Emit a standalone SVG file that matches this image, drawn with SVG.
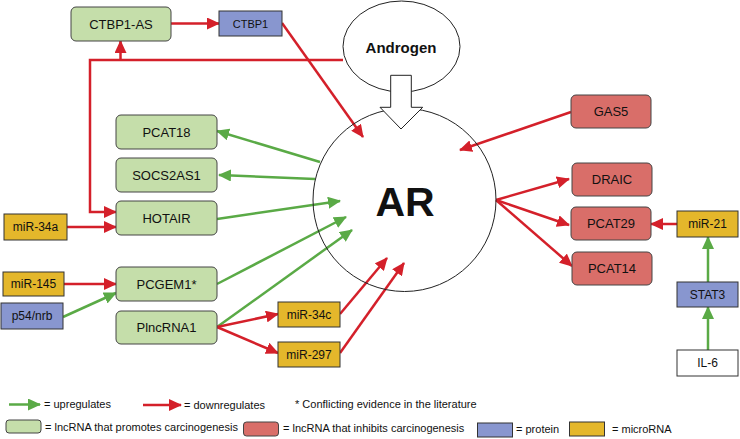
<svg xmlns="http://www.w3.org/2000/svg" width="740" height="439" viewBox="0 0 740 439">
<defs>
<marker id="ar" markerWidth="13" markerHeight="12" refX="12" refY="6" orient="auto" markerUnits="userSpaceOnUse"><path d="M0,0 L13,6 L0,12 Z" fill="#d4202a"/></marker>
<marker id="ag" markerWidth="13" markerHeight="12" refX="12" refY="6" orient="auto" markerUnits="userSpaceOnUse"><path d="M0,0 L13,6 L0,12 Z" fill="#5aaa46"/></marker>
<style>
text{font-family:"Liberation Sans",Arial,sans-serif;font-size:13px;fill:#111;text-anchor:middle;dominant-baseline:central}
.lg{font-size:11px;text-anchor:start}
.pro{fill:#c5deaa;stroke:#444;stroke-width:1}
.inh{fill:#d96e69;stroke:#444;stroke-width:1}
.prot{fill:#8896cf;stroke:#333;stroke-width:1}
.mir{fill:#e4b72b;stroke:#333;stroke-width:1}
.r{stroke:#d4202a;stroke-width:2.5;fill:none}
.g{stroke:#5aaa46;stroke-width:2.5;fill:none}
</style>
</defs>
<rect width="740" height="439" fill="#fff"/>
<g id="connectors">
<line class="r" x1="171" y1="23.5" x2="219" y2="23.5" marker-end="url(#ar)"/>
<polyline class="r" points="343,60 90,60 90,212 116,212" marker-end="url(#ar)"/>
<line class="r" x1="120.5" y1="60" x2="120.5" y2="41" marker-end="url(#ar)"/>
<line class="r" x1="282" y1="23" x2="363" y2="137" marker-end="url(#ar)"/>
<line class="r" x1="571" y1="112" x2="460" y2="150" marker-end="url(#ar)"/>
<line class="g" x1="320" y1="162" x2="217" y2="131" marker-end="url(#ag)"/>
<line class="g" x1="315" y1="179" x2="219" y2="175" marker-end="url(#ag)"/>
<line class="g" x1="217" y1="219" x2="340" y2="201" marker-end="url(#ag)"/>
<line class="g" x1="217" y1="284" x2="346" y2="217" marker-end="url(#ag)"/>
<line class="g" x1="217" y1="327" x2="352" y2="230" marker-end="url(#ag)"/>
<line class="r" x1="67" y1="227" x2="116" y2="227" marker-end="url(#ar)"/>
<line class="r" x1="64" y1="284" x2="116" y2="284" marker-end="url(#ar)"/>
<line class="g" x1="63" y1="317" x2="116" y2="293" marker-end="url(#ag)"/>
<line class="r" x1="217" y1="327" x2="278" y2="314" marker-end="url(#ar)"/>
<line class="r" x1="217" y1="327" x2="278" y2="353" marker-end="url(#ar)"/>
<line class="r" x1="340" y1="314" x2="387" y2="258" marker-end="url(#ar)"/>
<line class="r" x1="340" y1="353" x2="404" y2="263" marker-end="url(#ar)"/>
<line class="r" x1="496" y1="200" x2="569" y2="179" marker-end="url(#ar)"/>
<line class="r" x1="496" y1="200" x2="569" y2="225" marker-end="url(#ar)"/>
<line class="r" x1="496" y1="200" x2="572" y2="266" marker-end="url(#ar)"/>
<line class="r" x1="677" y1="224" x2="651" y2="224" marker-end="url(#ar)"/>
<line class="g" x1="708" y1="282" x2="708" y2="237" marker-end="url(#ag)"/>
<line class="g" x1="708" y1="350" x2="708" y2="307" marker-end="url(#ag)"/>
</g>
<g id="AR"><circle cx="404.5" cy="200" r="91.5" fill="none" stroke="#222" stroke-width="1"/><text x="405" y="202" style="font-size:41px;font-weight:bold">AR</text></g>
<g id="Androgen"><ellipse cx="401.5" cy="46.5" rx="58.5" ry="45.5" fill="#fff" stroke="#222" stroke-width="1"/><text x="401" y="47" style="font-size:15px;font-weight:bold">Androgen</text>
<path d="M390.7,75.3 H411.3 V107.3 H422.7 L401,129 L380,107.3 H390.7 Z" fill="#fff" stroke="#222" stroke-width="1"/></g>
<g id="CTBP1-AS"><rect class="pro" x="71" y="7" width="100" height="34" rx="5"/><text x="121" y="24">CTBP1-AS</text></g>
<g id="CTBP1"><rect class="prot" x="219" y="11" width="63" height="25"/><text x="250.5" y="23.5" style="font-size:11px">CTBP1</text></g>
<g id="PCAT18"><rect class="pro" x="116" y="115" width="101" height="34" rx="5"/><text x="166.5" y="132">PCAT18</text></g>
<g id="SOCS2AS1"><rect class="pro" x="116" y="158" width="101" height="34" rx="5"/><text x="166.5" y="175">SOCS2AS1</text></g>
<g id="HOTAIR"><rect class="pro" x="116" y="201" width="101" height="34" rx="5"/><text x="166.5" y="218">HOTAIR</text></g>
<g id="PCGEM1"><rect class="pro" x="116" y="267" width="101" height="34" rx="5"/><text x="166.5" y="284">PCGEM1*</text></g>
<g id="PlncRNA1"><rect class="pro" x="116" y="311" width="101" height="33" rx="5"/><text x="166.5" y="327.5">PlncRNA1</text></g>
<g id="miR-34a"><rect class="mir" x="4" y="214" width="63" height="26"/><text x="35.5" y="227" style="font-size:12px">miR-34a</text></g>
<g id="miR-145"><rect class="mir" x="3" y="272" width="61" height="24"/><text x="33.5" y="284" style="font-size:12px">miR-145</text></g>
<g id="p54nrb"><rect class="prot" x="1" y="303" width="62" height="26"/><text x="32" y="316" style="font-size:12px">p54/nrb</text></g>
<g id="miR-34c"><rect class="mir" x="278" y="302" width="62" height="25"/><text x="309" y="314.5" style="font-size:12px">miR-34c</text></g>
<g id="miR-297"><rect class="mir" x="278" y="342" width="62" height="25"/><text x="309" y="354.5" style="font-size:12px">miR-297</text></g>
<g id="GAS5"><rect class="inh" x="571" y="95" width="80" height="33" rx="5"/><text x="611" y="111.5">GAS5</text></g>
<g id="DRAIC"><rect class="inh" x="572" y="163" width="80" height="33" rx="5"/><text x="612" y="179.5">DRAIC</text></g>
<g id="PCAT29"><rect class="inh" x="571" y="207" width="80" height="33" rx="5"/><text x="611" y="223.5">PCAT29</text></g>
<g id="PCAT14"><rect class="inh" x="572" y="252" width="80" height="33" rx="5"/><text x="612" y="268.5">PCAT14</text></g>
<g id="miR-21"><rect class="mir" x="677" y="211" width="61" height="26"/><text x="707.5" y="224" style="font-size:12px">miR-21</text></g>
<g id="STAT3"><rect class="prot" x="677" y="282" width="61" height="25"/><text x="707.5" y="294.5" style="font-size:12px">STAT3</text></g>
<g id="IL-6"><rect x="677" y="350" width="61" height="26" fill="#fff" stroke="#333" stroke-width="1"/><text x="707.5" y="363" style="font-size:12px">IL-6</text></g>
<g id="legend">
<line class="g" x1="9" y1="404.5" x2="40" y2="404.5" marker-end="url(#ag)"/>
<text class="lg" x="44" y="404">= upregulates</text>
<line class="r" x1="143" y1="405" x2="181" y2="405" marker-end="url(#ar)"/>
<text class="lg" x="184" y="405">= downregulates</text>
<text class="lg" x="295" y="404">* Conflicting evidence in the literature</text>
<rect class="pro" x="6" y="420" width="35" height="13" rx="3"/>
<text class="lg" x="45" y="427">= lncRNA that promotes carcinogenesis</text>
<rect class="inh" x="243.5" y="422" width="35" height="14" rx="3"/>
<text class="lg" x="283" y="428">= lncRNA that inhibits carcinogenesis</text>
<rect class="prot" x="477.5" y="423" width="35" height="14"/>
<text class="lg" x="516" y="429">= protein</text>
<rect class="mir" x="569.5" y="422" width="35" height="14"/>
<text class="lg" x="612" y="429">= microRNA</text>
</g>
</svg>
